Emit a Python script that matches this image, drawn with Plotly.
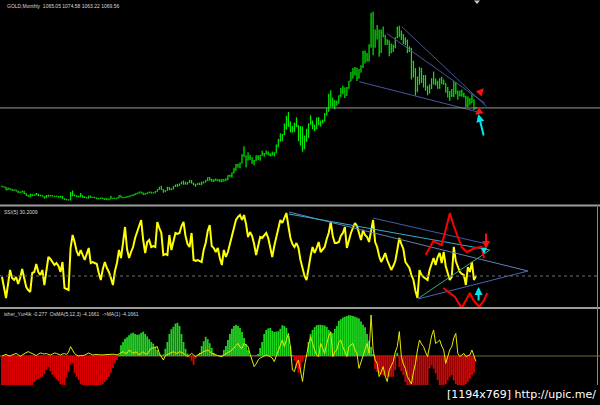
import plotly.graph_objects as go

W, H = 600, 405

# ---------------- data: GOLD monthly bars as drawn (Nov 1996 .. Dec 2015) ----------------
first_open = 379.0
closes = [371, 369,
          345, 358, 349, 340, 345, 334, 326, 324, 332, 311, 296, 290,
          304, 297, 301, 310, 293, 296, 288, 273, 294, 292, 294, 288,
          287, 288, 280, 286, 268, 261, 255, 255, 299, 300, 292, 290,
          283, 293, 277, 275, 272, 289, 277, 278, 273, 264, 270, 273,
          265, 267, 258, 264, 268, 271, 266, 273, 293, 279, 275, 279,
          282, 290, 297, 301, 308, 316, 326, 318, 305, 312, 318, 324, 317, 317, 330, 348,
          368, 348, 334, 339, 364, 346, 354, 375, 388, 384, 398, 416,
          400, 396, 410, 427, 405, 388, 394, 395, 391, 408, 416, 428, 453, 438,
          422, 435, 428, 435, 417, 436, 429, 433, 473, 470, 495, 517,
          568, 556, 582, 654, 643, 613, 633, 624, 599, 603, 646, 632,
          650, 665, 662, 679, 659, 650, 666, 673, 743, 789, 783, 834,
          923, 972, 916, 865, 885, 926, 913, 833, 880, 718, 815, 882,
          928, 942, 917, 890, 978, 927, 954, 955, 1008, 1040, 1182, 1097,
          1083, 1118, 1113, 1180, 1212, 1245, 1181, 1248, 1307, 1357, 1386, 1421,
          1333, 1410, 1439, 1556, 1536, 1500, 1628, 1826, 1620, 1722, 1746, 1564,
          1738, 1710, 1669, 1664, 1561, 1598, 1614, 1692, 1773, 1719, 1713, 1675,
          1663, 1578, 1596, 1472, 1393, 1234, 1313, 1395, 1327, 1323, 1250, 1202,
          1240, 1326, 1284, 1296, 1250, 1327, 1282, 1287, 1210, 1172, 1182, 1184,
          1283, 1213, 1183, 1182, 1190, 1172, 1095, 1135, 1115, 1142, 1065.05, 1069.56]
highs = [382, 375,
         370, 365, 360, 354, 349, 345, 337, 331, 336, 336, 314, 299,
         307, 305, 303, 316, 311, 301, 297, 289, 299, 301, 300, 296,
         293, 291, 290, 292, 290, 268, 263, 262, 326, 338, 303, 293,
         292, 316, 295, 289, 282, 294, 289, 280, 277, 276, 272, 275,
         273, 268, 270, 265, 293, 273, 272, 278, 294, 293, 281, 281,
         290, 293, 299, 303, 314, 320, 328, 330, 322, 315, 321, 327, 328, 324, 333, 349,
         373, 382, 352, 340, 372, 369, 360, 376, 390, 398, 399, 417,
         428, 417, 414, 432, 431, 408, 398, 406, 410, 419, 419, 431, 455, 456,
         440, 439, 445, 438, 437, 443, 437, 447, 474, 478, 498, 540,
         573, 576, 587, 660, 730, 650, 677, 654, 634, 610, 649, 650,
         651, 690, 671, 693, 685, 669, 684, 677, 744, 795, 845, 838,
         933, 1000, 1033, 950, 910, 939, 988, 916, 910, 906, 825, 883,
         931, 1006, 959, 920, 982, 990, 959, 966, 1024, 1070, 1195, 1227,
         1161, 1140, 1135, 1180, 1249, 1265, 1250, 1254, 1307, 1388, 1424, 1431,
         1423, 1411, 1447, 1575, 1577, 1556, 1632, 1912, 1920, 1764, 1804, 1764,
         1764, 1790, 1718, 1677, 1666, 1640, 1631, 1693, 1790, 1796, 1754, 1723,
         1695, 1676, 1616, 1600, 1487, 1424, 1348, 1433, 1424, 1361, 1361, 1267,
         1280, 1332, 1392, 1331, 1310, 1332, 1345, 1321, 1287, 1255, 1220, 1238,
         1307, 1293, 1223, 1224, 1232, 1205, 1175, 1170, 1157, 1191, 1145, 1074.58]
lows = [369, 367,
        341, 344, 346, 337, 338, 333, 318, 317, 322, 308, 292, 283,
        280, 289, 293, 300, 290, 288, 286, 271, 272, 283, 289, 285,
        284, 285, 278, 278, 266, 258, 252, 252, 253, 288, 289, 282,
        280, 283, 275, 273, 270, 271, 275, 273, 270, 264, 263, 266,
        263, 255, 255, 256, 263, 268, 264, 265, 268, 277, 270, 273,
        277, 281, 288, 291, 300, 306, 313, 313, 302, 301, 309, 315, 313, 312, 315, 328,
        344, 346, 320, 324, 337, 342, 343, 349, 371, 370, 378, 395,
        390, 392, 393, 406, 401, 383, 372, 390, 388, 389, 402, 411, 423, 426,
        417, 414, 425, 420, 414, 414, 418, 426, 432, 457, 455, 491,
        515, 541, 537, 579, 636, 543, 604, 610, 574, 560, 600, 608,
        603, 646, 637, 660, 650, 640, 648, 641, 671, 722, 772, 782,
        830, 878, 904, 852, 851, 857, 900, 776, 736, 681, 705, 770,
        804, 922, 880, 865, 884, 918, 905, 933, 952, 1003, 1040, 1075,
        1075, 1058, 1088, 1110, 1165, 1190, 1157, 1178, 1240, 1305, 1329, 1360,
        1309, 1330, 1381, 1423, 1462, 1478, 1478, 1602, 1535, 1603, 1676, 1523,
        1555, 1696, 1627, 1627, 1527, 1553, 1564, 1597, 1687, 1695, 1672, 1636,
        1626, 1555, 1565, 1321, 1338, 1180, 1208, 1274, 1291, 1251, 1221, 1182,
        1200, 1239, 1277, 1269, 1240, 1240, 1281, 1275, 1206, 1162, 1131, 1167,
        1167, 1191, 1142, 1170, 1169, 1162, 1077, 1077, 1098, 1113, 1052, 1063.22]
opens = [first_open] + closes[:-1]
bars = list(range(len(closes)))
bid_price = 1069.56
ssi_level = 30
zero_level = 0

# SSI(5) oscillator
ssi = [29, 18, 8, 22, 36, 28, 26, 29, 22, 28, 37, 28, 19, 16, 14, 33, 34, 42, 34, 31,
       36, 21, 35, 49, 47, 44, 41, 43, 40, 34, 44, 18, 17, 16, 58, 71, 64, 55, 50, 56,
       51, 46, 52, 58, 43, 44, 43, 42, 33, 26, 37, 44, 38, 34, 28, 21, 35, 43, 56, 48,
       63, 79, 57, 48, 54, 59, 68, 74, 80, 86, 66, 53, 64, 66, 59, 60, 59, 84, 78, 73,
       51, 52, 51, 71, 56, 64, 73, 72, 73, 80, 84, 70, 62, 59, 73, 46, 45, 46, 45, 44,
       56, 63, 75, 81, 60, 58, 54, 58, 48, 41, 56, 49, 54, 61, 70, 78, 86, 89, 91, 86,
       91, 82, 69, 74, 70, 62, 51, 60, 69, 68, 70, 73, 68, 60, 49, 60, 69, 80, 86, 83,
       88, 93, 80, 68, 62, 59, 63, 58, 46, 38, 30, 26, 39, 50, 59, 53, 58, 64, 54, 56,
       59, 67, 73, 84, 70, 63, 63, 64, 70, 73, 79, 58, 66, 73, 78, 83, 80, 73, 66, 76,
       71, 69, 64, 75, 86, 64, 59, 50, 44, 48, 53, 46, 40, 36, 40, 45, 56, 68, 62, 57,
       44, 41, 38, 31, 26, 15, 8, 36, 31, 29, 27, 26, 36, 42, 48, 41, 49, 53, 43, 54,
       40, 33, 26, 29, 59, 45, 40, 34, 32, 31, 21, 39, 34, 44, 26, 30.2009]

# OsMA(5,12,3) histogram
osma = [-9, -9.5, -10, -10, -9.5, -9, -9, -8.5, -9, -9.5, -10, -10, -9.5, -9, -8,
        -7.3, -6.5, -6, -5.7, -5.4, -5.2, -4.5, -3.5, -2.7, -3.8, -4.7, -5.3, -5.8, -6.3, -7,
        -7.6, -7.5, -5.5, -4, -2.2, -1.8, -4.3, -5.2, -6, -7, -8, -8.5, -9, -9.5, -9.5,
        -9, -9, -8.5, -8, -7.5, -7, -6.5, -6, -5.2, -4.2, -3, -1.8, -1,
        0.3, 2.7, 3.5, 4.3, 4.7, 5.2, 5.6, 5.8, 5.5, 5.3, 5.4, 5.8, 6.1, 5.5, 4.9, 4.2,
        3.5, 3.1, 2.3, 1.5, 0.8, 0.2, 0.4, 1.8, 3.5, 5.5, 6.7, 7.3, 8.1, 8.3, 7.5, 5.5,
        3.5, 1.8, 0.6, -0.3, -1.2, -2.2, -0.6, 0.2, 0.8, 2.5, 3.7, 4.8, 4.2, 3.2, 2,
        0.8, 0.3, 0.1, 0.2, 0.3, 1.5, 2.5, 4, 5.5, 6.8, 7.5, 7.8, 7.5, 7, 6,
        4.5, 3, 1.5, 0.3, 0.1, 0.1, 0.2, 0.5, 2, 3.5, 5.5, 6.5, 6.9, 7, 6.3,
        6, 6.1, 6.2, 6.8, 7.7, 7.5, 7, 5, 2.5, 0.2, -1.2, -3, -4.2, -3.5, -1.5,
        -0.3, 0.3, 3.5, 5.5, 6.5, 7.2, 7.7, 7.8, 7.8, 7.7, 7.6, 7.3, 6.5, 5.8, 5.7,
        6.8, 7.5, 8.8, 9.2, 9.6, 9.8, 10, 10.2, 10.1, 10, 9.8, 9.6, 9.4, 8.6, 7.8,
        7.2, 5.5, 3.8, 2.3, 0.5, -3.2, -4, -4.4, -4.7, -4.8, -5, -5.1, -5.2, -5.2, -5.2,
        -3.5, 0.8, -2.7, -3.8, -4.8, -6.5, -7.5, -8.5, -9, -9.5, -9.5, -9.5, -9.5, -9, -8.5,
        -8, -8, -3.1, -2.3, -3.2, -4.3, -6, -7.5, -8, -8, -7, -6.1, -5.2, -4.8, -6.1,
        -7, -7.5, -8.5, -8.5, -8, -7, -6.5, -5.6, -4.8, -4.1661]

# Fisher_Yur4ik line
fisher = [0.0, 0.05, 0.08, 0.02, 0.0, 0.05, 0.08, 0.13, 0.07, -0.02, 0.05, 0.1, 0.15, 0.22, 0.17,
          0.12, 0.08, 0.02, 0.1, 0.15, 0.13, 0.1, 0.12, 0.08, 0.05, 0.1, 0.15, 0.13, 0.08, 0.05,
          0.1, 0.12, 0.08, 0.2, 0.47, 0.3, 0.12, 0.05, 0.0, 0.03, 0.02, 0.05, 0.12, 0.15, 0.1,
          0.05, 0.07, 0.08, 0.07, 0.05, 0.06, 0.05, 0.08, 0.1, 0.1, 0.09, 0.08, 0.05,
          0.1, 0.15, 0.22, 0.15, 0.13, 0.3, 0.2, 0.13, 0.2, 0.18, 0.05, 0.12, 0.22, 0.1, 0.1,
          0.25, 0.38, 0.4, 0.45, 0.47, 0.13, -0.05, -0.2, 0.02, 0.08, 0.13, 0.2, 0.22, 0.15, 0.13,
          0.22, 0.18, 0.13, 0.05, -0.03, 0.05, 0.13, 0.05, -0.03, 0.05, 0.12, 0.18, 0.22, 0.25,
          0.3, 0.22, 0.13, 0.1, 0.05, 0.02, -0.02, -0.03, 0.05, 0.13, 0.18, 0.22, 0.3, 0.4, 0.52,
          0.63, 0.45, 0.38, 0.63, 0.55, 0.47, 0.1, -0.2, -0.53, -0.4, -0.2, -0.1, -0.03, 0.0, 0.05,
          0.02, -0.03, -0.1, -0.28, 0.0, 0.3, 0.6, 0.8, 0.47, 0.8, 1.13, 0.47, -0.7, -0.78, -0.4,
          -0.2, -0.7, -1.28, -0.5, 0.13, 0.55, 0.97, 0.6, 0.3, 0.05, -0.03, 0.63, 0.4, 0.13, 0.6,
          1.0, 1.22, -0.03, 0.2, 0.3, 0.7, 0.8, 0.47, 0.2, -0.03, 0.47, 0.55, 0.63, 0.3, 0.13,
          -0.62, -0.3, -0.03, 0.4, 0.63, 0.13, 2.05, 0.3, -0.2, -0.37, -1.03, -0.8, -0.53, -1.0, -1.28,
          -0.7, -0.5, -0.28, 0.2, 0.47, 1.22, -0.03, -0.4, -0.62, -1.03, -1.2, -1.4, -0.8, -0.37,
          0.3, 0.8, 0.6, 0.47, 0.2, -0.03, 0.47, 1.0, 1.3, 0.63, 0.7, 0.8, 0.5, 0.3, -0.37,
          0.0, 0.3, 0.47, 0.9, 1.13, 0.13, -0.03, 0.05, 0.13, -0.03, 0.0, 0.05, 0.3, -0.03, -0.277]

# hand-drawn objects (bar index, value)
price_trend_x = [[177.1, 238.0], [190.7, 239.5], [198.2, 240.3]]
price_trend_y = [[1302, 1025], [1730, 1111], [1789, 1081]]
ssi_trend_x = [[142.3, 260.8], [142.3, 241.9], [183.9, 240.5], [206.2, 260.8], [206.7, 241.9]]
ssi_trend_y = [[94, 35], [92, 56], [88, 62], [7, 35], [8, 56]]
ssi_trend_c = ['#5f7fbf', '#2fb0d0', '#3c5fae', '#4a64b0', '#3aa88a']
zz_up_x = [210.1, 213.8, 215.8, 218.0, 222.1, 223.8, 227.9, 230.4, 234.5, 237.8, 239.0]
zz_up_y = [51, 65, 63, 61, 93, 81, 59, 54, 58, 59, 48]
zz_dn_x = [218.8, 221.3, 224.6, 227.9, 230.4, 232.0, 233.7, 236.6, 239.0, 240.6]
zz_dn_y = [18, 14, 9, -2, 8, 13, 6, -1, 6, 13]

# ---------------- geometry helpers ----------------
def fy(px):
    return 1 - px / H

x_range = [-0.99, 296.5]

fig = go.Figure()

fig.add_trace(go.Ohlc(x=bars, open=opens, high=highs, low=lows, close=closes,
                      increasing=dict(line=dict(color='#00ec00', width=1.2)),
                      decreasing=dict(line=dict(color='#00ec00', width=1.2)),
                      tickwidth=0.35, xaxis='x', yaxis='y', hoverinfo='skip'))

for xs, ys in zip(price_trend_x, price_trend_y):
    fig.add_trace(go.Scatter(x=xs, y=ys, mode='lines', line=dict(color='#46579a', width=1),
                             xaxis='x', yaxis='y', hoverinfo='skip'))

# panel 2
fig.add_trace(go.Scatter(x=bars, y=ssi, mode='lines', line=dict(color='#ffff00', width=2),
                         xaxis='x', yaxis='y2', hoverinfo='skip'))
for xs, ys, c in zip(ssi_trend_x, ssi_trend_y, ssi_trend_c):
    fig.add_trace(go.Scatter(x=xs, y=ys, mode='lines', line=dict(color=c, width=1),
                             xaxis='x', yaxis='y2', hoverinfo='skip'))
fig.add_trace(go.Scatter(x=zz_up_x, y=zz_up_y, mode='lines', line=dict(color='#ff0000', width=2),
                         xaxis='x', yaxis='y2', hoverinfo='skip'))
fig.add_trace(go.Scatter(x=zz_dn_x, y=zz_dn_y, mode='lines', line=dict(color='#ff0000', width=2),
                         xaxis='x', yaxis='y2', hoverinfo='skip'))

# panel 3
fig.add_trace(go.Bar(x=bars, y=osma,
                     marker=dict(color=['#1ed41e' if v > 0 else '#dd0000' for v in osma], line=dict(width=0)),
                     xaxis='x', yaxis='y3', hoverinfo='skip'))
fig.add_trace(go.Scatter(x=bars, y=fisher, mode='lines', line=dict(color='#e8e800', width=1),
                         xaxis='x', yaxis='y4', hoverinfo='skip'))

ax_common = dict(visible=False, fixedrange=True)
fig.update_layout(
    width=W, height=H, margin=dict(l=0, r=0, t=0, b=0),
    paper_bgcolor='black', plot_bgcolor='black', showlegend=False, bargap=0.1,
    xaxis=dict(range=x_range, domain=[0, 1], anchor='y', rangeslider=dict(visible=False), **ax_common),
    yaxis=dict(range=[219.6, 2024.9], domain=[fy(204), 1], **ax_common),
    yaxis2=dict(range=[-1, 99], domain=[fy(307), fy(207)], **ax_common),
    yaxis3=dict(range=[-7.25, 11.75], domain=[fy(385), fy(309)], **ax_common),
    yaxis4=dict(range=[-1.45, 2.35], domain=[fy(385), fy(309)], overlaying='y3', **ax_common),
)

# bid line, level line and zero line
fig.add_shape(type='line', xref='paper', yref='y', x0=0, x1=1, y0=bid_price, y1=bid_price,
              line=dict(color='#9a9a9a', width=1))
fig.add_shape(type='line', xref='paper', yref='y2', x0=0, x1=1, y0=ssi_level, y1=ssi_level,
              line=dict(color='#707070', width=1, dash='dot'))
fig.add_shape(type='line', xref='paper', yref='y3', x0=0, x1=1, y0=zero_level, y1=zero_level,
              line=dict(color='#7a6a30', width=1), layer='below')

# panel separators / borders
for py in (205.5, 308):
    fig.add_shape(type='line', xref='paper', yref='paper', x0=0, x1=1, y0=fy(py), y1=fy(py),
                  line=dict(color='#9c9c9c', width=2))
fig.add_shape(type='line', xref='paper', yref='paper', x0=597.5 / W, x1=597.5 / W, y0=fy(385), y1=fy(207),
              line=dict(color='#8a8a8a', width=1))
fig.add_shape(type='path', xref='paper', yref='paper',
              path=f'M {474/W} {fy(0.5)} L {480/W} {fy(0.5)} L {477/W} {fy(4)} Z',
              fillcolor='#c8c8c8', line=dict(width=0))

# arrows
def arrow(x, y, ax, ay, yref, color, width=2, size=1.0):
    fig.add_annotation(x=x, y=y, ax=ax, ay=ay, xref='x', yref=yref, axref='x', ayref=yref,
                       showarrow=True, arrowhead=2, arrowsize=size, arrowwidth=width,
                       arrowcolor=color, text='')

arrow(238.9, 1243, 236.6, 1199, 'y', '#ff1010', 2.5, 0.6)
arrow(234.6, 1010, 236.9, 1040, 'y', '#ff1010', 2.5, 0.6)
arrow(236.2, 1016, 239.0, 812, 'y', '#00e5ee', 2, 0.8)
arrow(240.0, 57, 240.0, 74, 'y2', '#ff1010', 2, 0.8)
arrow(239.0, 52, 239.0, 60, 'y2', '#00e5ee', 2, 0.6)
arrow(236.3, 19, 236.3, 4, 'y2', '#00e5ee', 2, 0.8)

# labels
lbl = dict(family='Liberation Sans, Arial', size=5, color='#d8d8d8')
fig.add_annotation(text='GOLD,Monthly  1065.05 1074.58 1063.22 1069.56', xref='paper', yref='paper',
                   x=5 / W, y=fy(6), xanchor='left', yanchor='middle', showarrow=False, font=lbl)
fig.add_annotation(text='SSI(5) 30.2009', xref='paper', yref='paper',
                   x=2 / W, y=fy(212), xanchor='left', yanchor='middle', showarrow=False, font=lbl)
fig.add_annotation(text='isher_Yur4ik -0.277  OsMA(5,12,3) -4.1661  ->MA(1) -4.1661', xref='paper', yref='paper',
                   x=2 / W, y=fy(313.5), xanchor='left', yanchor='middle', showarrow=False, font=lbl)
fig.add_annotation(text='[1194x769] http://upic.me/', xref='paper', yref='paper',
                   x=598 / W, y=fy(394), xanchor='right', yanchor='middle', showarrow=False,
                   font=dict(family='DejaVu Sans', size=11, color='white'))

fig.write_html('out.html', config={'displayModeBar': False, 'staticPlot': True},
               post_script="document.body.style.margin='0';document.body.style.overflow='hidden';")
